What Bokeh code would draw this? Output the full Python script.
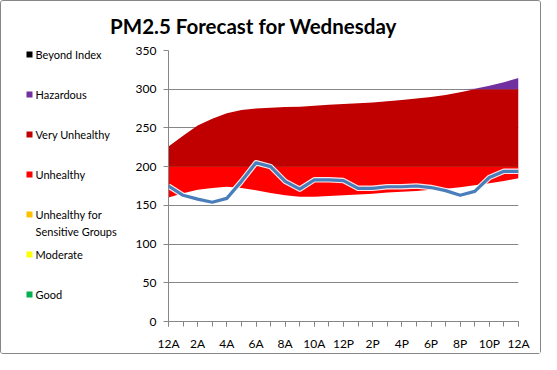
import numpy as np
from bokeh.plotting import figure
from bokeh.layouts import column, row
from bokeh.models import Range1d, FixedTicker
from bokeh.core.properties import value
from bokeh.embed import file_html
from bokeh.resources import INLINE

# ---- data ----
hours = list(range(25))
tick_hours = [0, 2, 4, 6, 8, 10, 12, 14, 16, 18, 20, 22, 24]
tick_labels = ["12A", "2A", "4A", "6A", "8A", "10A", "12P", "2P", "4P", "6P", "8P", "10P", "12A"]
y_ticks = [0, 50, 100, 150, 200, 250, 300, 350]

forecast = [175, 163, 158, 154, 159, 181, 205, 200, 181, 171, 183, 183, 182,
            172, 172, 174, 174, 175, 173, 169, 163, 168, 186, 194, 194]
range_low = [160, 165.5, 170, 172.5, 174, 172.5, 169.5, 166, 163, 161, 161, 162, 163,
             164, 165, 166.5, 167.5, 168.5, 170, 171.5, 173.5, 176, 178.5, 181.5, 185]
range_high = [226, 240, 253, 262, 269, 273, 275, 276, 277, 277.5, 278.5, 280, 281,
              282, 283, 284.5, 286, 288, 290, 292.5, 296, 300.5, 304.5, 309, 314.5]

categories = ["Good", "Moderate", "Unhealthy for\nSensitive Groups", "Unhealthy",
              "Very Unhealthy", "Hazardous", "Beyond Index"]
cat_low = [0, 50, 100, 150, 200, 300, 500]
cat_high = [50, 100, 150, 200, 300, 500, 1000]
cat_colors = ["#00B050", "#FFFF00", "#FFC000", "#FF0000", "#C00000", "#7030A0", "#000000"]

FONT = "Lato"
GRAY = "#868686"

# layout sizes (content inside a 1px border)
TW, TH = 539, 40          # title strip
LW, RH = 120, 312         # legend strip width, lower row height
MW = TW - LW              # main chart width
M_TOP, M_BOTTOM = 9, 28   # main chart borders above / below its frame
FH = RH - M_TOP - M_BOTTOM


def blank(fig):
    fig.background_fill_color = "white"
    fig.border_fill_color = "white"
    fig.outline_line_color = None
    return fig


# ---- title strip ----
t = blank(figure(width=TW, height=TH, output_backend="svg", toolbar_location=None,
                 x_axis_type=None, y_axis_type=None, x_range=Range1d(0, 1), y_range=Range1d(0, 1),
                 min_border_left=0, min_border_right=35, min_border_top=36, min_border_bottom=0))
t.title.text = "PM2.5 Forecast for Wednesday"
t.title.text_font = FONT
t.title.text_font_style = "bold"
t.title.text_font_size = "20.5px"
t.title.text_color = "black"
t.title.align = "center"
t.title.offset = 0
t.title.standoff = 0

# ---- legend strip (its frame is aligned with the chart frame) ----
lg = blank(figure(width=LW, height=RH, output_backend="svg", toolbar_location=None,
                  x_axis_type=None, y_axis_type=None,
                  x_range=Range1d(0, LW), y_range=Range1d(FH, 0),
                  min_border_left=0, min_border_right=0, min_border_top=M_TOP,
                  min_border_bottom=M_BOTTOM))
leg_names = categories[::-1]
leg_colors = cat_colors[::-1]
leg_pos = [4 + 40.6 * i for i in range(len(leg_names))]
lg.scatter(x=[28] * len(leg_names), y=leg_pos, marker="square", size=6,
           fill_color=leg_colors, line_color=None)
lg.text(x=[34] * len(leg_names), y=[v - 6.7 for v in leg_pos], text=leg_names,
        text_font=value(FONT), text_font_size="11px", text_color="black",
        text_align="left", text_baseline="top", text_line_height=1.35)

# ---- main chart ----
p = blank(figure(width=MW, height=RH, output_backend="svg", toolbar_location=None,
                 x_range=Range1d(0, 24), y_range=Range1d(0, 350),
                 min_border_left=47, min_border_right=22, min_border_top=M_TOP,
                 min_border_bottom=M_BOTTOM))

lo = np.array(range_low, dtype=float)
hi = np.array(range_high, dtype=float)
for c_lo, c_hi, col in zip(cat_low, cat_high, cat_colors):
    p.varea(x=hours, y1=np.clip(lo, c_lo, c_hi), y2=np.clip(hi, c_lo, c_hi),
            fill_color=col, fill_alpha=1.0)

p.line(hours, forecast, line_color="white", line_width=5.5, line_alpha=0.9, line_join="round")
p.line(hours, forecast, line_color="#4A7EBB", line_width=3.2, line_join="round")

p.xaxis.ticker = FixedTicker(ticks=tick_hours, minor_ticks=hours)
p.xaxis.major_label_overrides = {h: lab for h, lab in zip(tick_hours, tick_labels)}
p.yaxis.ticker = FixedTicker(ticks=y_ticks)
for ax in (p.xaxis[0], p.yaxis[0]):
    ax.axis_line_color = GRAY
    ax.major_tick_line_color = GRAY
    ax.minor_tick_line_color = GRAY
    ax.major_tick_out = 5
    ax.major_tick_in = 0
    ax.major_label_text_font = FONT
    ax.major_label_text_font_size = "12px"
    ax.major_label_text_color = "black"
p.xaxis.minor_tick_out = 5
p.xaxis.minor_tick_in = 0
p.yaxis.minor_tick_out = 0
p.yaxis.minor_tick_in = 0
p.xaxis.major_label_standoff = 9
p.yaxis.major_label_standoff = 7
p.xgrid.grid_line_color = None
p.ygrid.grid_line_color = GRAY

layout = column(t, row(lg, p))
layout.styles = {"border": "1px solid " + GRAY, "border-radius": "3px"}

open("out.html", "w").write(file_html(layout, INLINE))
